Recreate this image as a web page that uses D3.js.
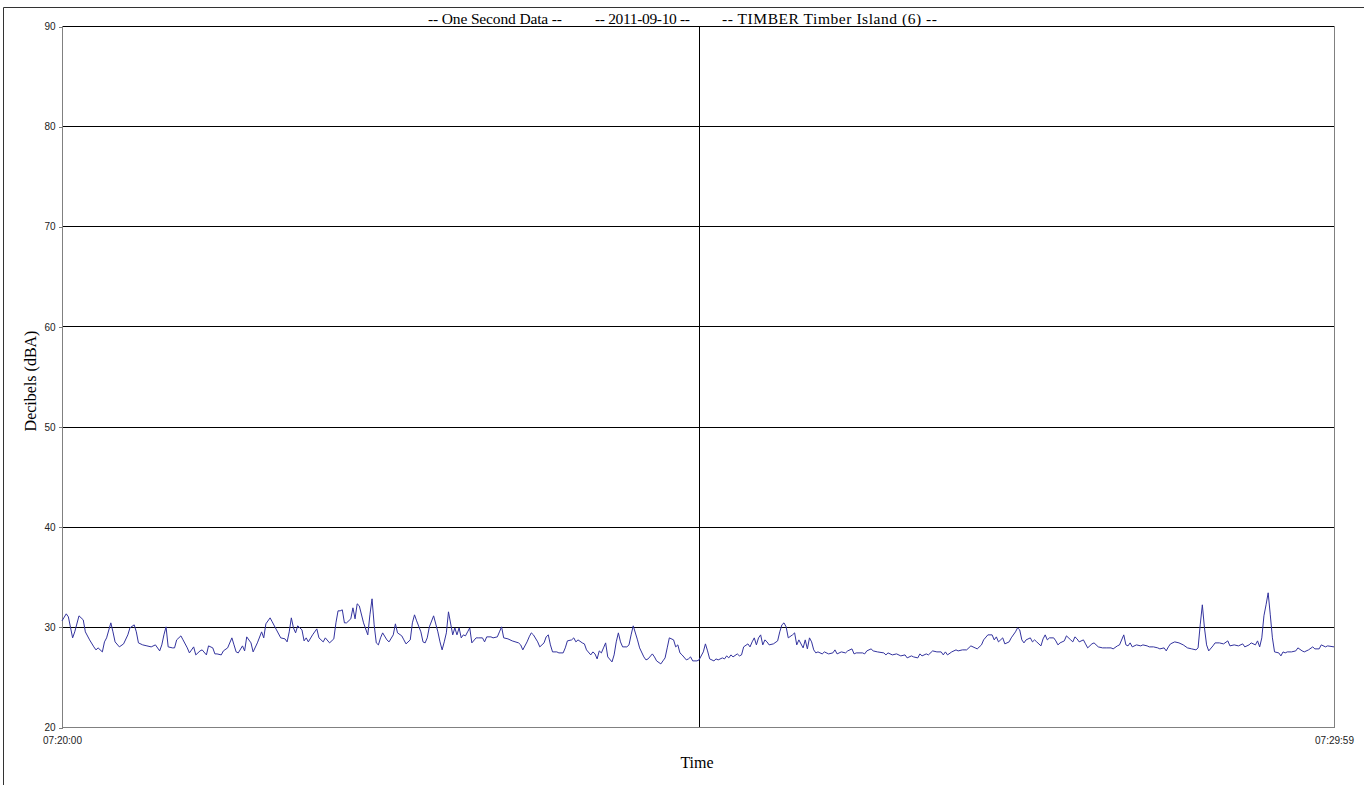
<!DOCTYPE html>
<html>
<head>
<meta charset="utf-8">
<script src="https://cdn.jsdelivr.net/npm/d3@7"></script>
<style>
  html, body { margin: 0; padding: 0; background: #fff; }
  svg { display: block; }
</style>
</head>
<body>
<svg id="chart" width="1364" height="785"></svg>
<script>
// ---- data ----
const titleParts = ["-- One Second Data --", "-- 2011-09-10 --", "-- TIMBER Timber Island (6) --"];
const yTicks = [20, 30, 40, 50, 60, 70, 80, 90];
const xTickLabels = ["07:20:00", "07:29:59"];
const xTickSeconds = [0, 599];
const xGridSeconds = [300];
const yLabel = "Decibels (dBA)";
const xLabel = "Time";
// seconds after 07:20:00
const seconds = [
  0,2,3,5,6,8,10,11,13,15,16,17,19,20,21,23,24,25,27,29,31,32,34,35,36,38,40,42,44,46,47,48,49,50,52,53,54,56,57,59,
  60,62,63,65,66,68,69,71,72,73,75,76,78,80,81,82,83,85,86,87,89,90,92,94,95,96,98,99,101,103,105,106,107,108,109,110,111,113,114,115,
  116,118,120,121,123,124,126,128,129,130,131,132,133,134,136,137,138,139,140,142,144,145,146,147,148,149,150,151,153,154,156,157,158,160,161,162,164,165,166,167,
  169,170,171,172,173,175,177,178,179,180,181,182,184,185,186,187,188,189,190,191,192,193,195,196,198,199,200,202,203,205,206,207,208,210,212,215,216,217,219,220,
  221,222,224,225,227,228,229,230,231,233,234,236,237,238,240,241,242,243,245,246,247,249,250,251,252,253,254,255,256,257,259,260,261,262,263,264,266,267,268,269,
  271,272,274,275,276,278,279,280,282,283,284,285,286,288,289,290,291,292,294,295,296,297,299,300,302,303,304,305,307,308,309,311,312,313,314,315,316,318,319,320,
  321,323,324,325,326,327,328,329,330,331,332,333,335,337,338,339,340,341,342,344,345,346,347,349,350,351,352,353,354,355,356,358,359,361,363,364,365,367,369,370,
  372,373,374,377,378,379,381,382,384,387,388,389,391,393,395,397,398,400,401,403,404,405,407,408,410,412,414,415,416,417,419,421,422,424,426,428,430,431,433,434,
  436,438,439,440,441,443,444,446,447,449,450,451,452,453,454,456,457,458,459,461,462,463,464,465,467,468,469,470,472,473,475,476,477,478,479,481,482,483,485,486,
  488,490,492,494,495,497,498,500,501,502,503,504,506,508,509,511,512,514,516,517,519,520,521,522,524,526,528,530,532,534,535,536,537,538,539,540,542,543,545,547,
  549,550,552,554,556,557,559,560,562,563,564,565,566,567,568,569,570,571,573,574,575,576,577,579,581,582,584,585,587,589,590,592,593,595,596,599
];
const decibels = [
  30.6,31.3,31.0,28.9,29.5,31.1,30.7,29.5,28.7,28.0,27.7,27.9,27.5,28.5,28.9,30.4,29.5,28.5,28.0,28.3,29.2,29.9,30.2,29.5,28.4,28.2,28.1,28.0,28.2,27.6,28.2,29.2,30.0,28.0,27.9,27.9,28.7,29.1,28.7,27.9,
  27.4,28.0,27.2,27.6,27.7,27.2,28.1,27.9,27.3,27.3,27.2,27.6,27.9,28.9,28.2,27.5,27.4,28.1,27.6,29.0,28.4,27.5,28.4,29.5,28.9,30.3,30.9,30.5,29.7,28.9,28.8,28.5,29.5,30.9,29.9,29.4,30.1,29.7,28.6,28.9,
  28.5,29.2,29.8,28.9,28.5,28.9,28.4,28.8,30.4,31.6,31.6,31.7,30.4,30.4,30.8,31.9,30.8,32.3,32.1,30.4,29.2,31.2,32.8,30.2,28.4,28.2,28.9,29.4,28.7,28.5,29.2,30.3,29.4,29.1,28.7,28.3,28.7,30.4,31.2,30.6,
  29.5,28.5,28.4,28.9,30.0,31.1,29.5,28.5,27.7,28.5,29.4,31.5,29.2,29.9,29.2,29.9,28.9,29.2,29.1,29.5,29.9,28.4,28.9,28.9,28.9,28.5,29.0,29.0,28.9,29.0,29.5,30.0,28.9,28.8,28.6,28.4,28.2,27.7,28.5,29.0,
  29.4,29.2,28.5,28.0,28.4,29.0,29.2,28.2,27.5,27.5,27.4,27.4,27.9,28.6,28.7,28.9,28.5,28.7,28.4,28.3,27.7,27.2,27.5,27.3,26.8,27.6,27.4,27.9,28.4,27.0,26.5,27.2,28.5,29.4,28.5,28.0,28.0,28.2,29.2,30.1,
  28.7,27.9,27.0,26.7,26.8,27.3,27.0,26.6,26.3,26.6,26.9,27.9,28.9,28.7,28.0,28.2,27.4,27.2,26.7,26.8,27.0,26.6,26.6,26.7,27.5,28.3,27.6,26.8,26.6,26.8,26.7,26.9,26.8,27.1,26.9,27.2,27.0,27.3,27.1,27.2,
  28.0,28.3,28.0,28.5,28.9,28.2,28.9,29.2,28.2,28.7,28.5,28.2,28.3,28.6,29.5,30.2,30.4,30.0,28.9,29.2,29.4,28.2,28.7,27.9,28.7,27.8,28.9,28.5,27.7,27.4,27.5,27.3,27.5,27.3,27.4,27.7,27.3,27.5,27.4,27.6,
  27.8,27.3,27.4,27.4,27.3,27.6,27.8,27.6,27.5,27.4,27.2,27.4,27.2,27.3,27.1,27.2,26.9,27.1,27.0,26.9,27.3,27.1,27.3,27.2,27.6,27.5,27.5,27.2,27.5,27.2,27.5,27.7,27.6,27.7,27.7,28.1,27.9,27.8,28.2,28.7,
  29.2,29.2,28.7,29.0,28.5,28.9,28.3,28.5,28.9,29.5,29.9,29.7,28.7,28.4,28.7,28.9,28.5,28.7,28.5,28.1,28.8,29.2,28.7,28.9,28.9,28.6,28.2,28.4,28.6,29.1,28.7,28.5,29.0,28.8,28.5,28.7,28.3,27.9,28.3,28.4,
  28.0,27.9,27.9,27.9,27.8,28.1,28.2,29.2,28.2,28.1,28.4,28.0,28.2,28.1,28.2,28.1,28.0,28.0,27.9,27.8,27.9,27.6,28.0,28.3,28.5,28.4,28.2,27.9,27.8,27.7,27.9,30.2,32.2,29.9,28.2,27.6,28.1,28.4,28.4,28.3,
  28.6,28.1,28.2,28.1,28.3,28.0,28.2,28.4,28.2,28.6,28.0,28.9,31.1,32.2,33.4,31.2,28.9,27.5,27.4,27.1,27.5,27.4,27.5,27.5,27.6,27.9,27.6,27.5,27.7,28.0,27.8,27.8,28.2,28.0,28.1,28.0
];

// ---- layout ----
const svg = d3.select("#chart");
const plotL = 62, plotR = 1334, plotT = 26, plotB = 727;
const x = d3.scaleLinear().domain([0, 599]).range([plotL, plotR]);
const y = d3.scaleLinear().domain([20, 90]).range([plotB, plotT]);
const serif = "'Liberation Serif', 'Times New Roman', serif";
const narrow = "'Liberation Sans Narrow', 'Liberation Sans', Arial, sans-serif";

// outer frame
svg.append("path")
  .attr("d", `M3.5,785 V7.5 H1364`)
  .attr("fill", "none").attr("stroke", "#333").attr("stroke-width", 1);

const grid = svg.append("g").attr("shape-rendering", "crispEdges");
// horizontal gridlines
grid.selectAll("line.h").data(yTicks.filter(t => t > 20 && t < 90)).join("line")
  .attr("x1", plotL).attr("x2", plotR)
  .attr("y1", d => y(d) + 0.5).attr("y2", d => y(d) + 0.5)
  .attr("stroke", "#000").attr("stroke-width", 1);
// vertical gridline
grid.selectAll("line.v").data(xGridSeconds).join("line")
  .attr("x1", d => Math.round(x(d)) + 0.5).attr("x2", d => Math.round(x(d)) + 0.5)
  .attr("y1", plotT).attr("y2", plotB)
  .attr("stroke", "#000").attr("stroke-width", 1);

// plot border
grid.append("line").attr("x1", plotL).attr("x2", plotR).attr("y1", plotT + 0.5).attr("y2", plotT + 0.5).attr("stroke", "#000");
grid.append("line").attr("x1", plotL + 0.5).attr("x2", plotL + 0.5).attr("y1", plotT).attr("y2", plotB + 1).attr("stroke", "#808080");
grid.append("line").attr("x1", plotL).attr("x2", plotR + 1).attr("y1", plotB + 0.5).attr("y2", plotB + 0.5).attr("stroke", "#808080");
grid.append("line").attr("x1", plotR + 0.5).attr("x2", plotR + 0.5).attr("y1", plotT).attr("y2", plotB + 1).attr("stroke", "#808080");

// y axis
const yAxis = d3.axisLeft(y).tickValues(yTicks).tickSize(4).tickPadding(3).tickFormat(d3.format("d"));
const gy = svg.append("g").attr("transform", `translate(${plotL + 0.5},0.5)`).call(yAxis);
gy.select(".domain").remove();
gy.selectAll(".tick line").attr("stroke", "#808080").attr("shape-rendering", "crispEdges");
gy.selectAll(".tick text").attr("font-family", narrow).attr("font-size", 10).attr("fill", "#222");

// x axis labels
const xAxis = d3.axisBottom(x).tickValues(xTickSeconds).tickSize(0).tickPadding(10)
  .tickFormat((d, i) => xTickLabels[i]);
const gx = svg.append("g").attr("transform", `translate(0,${plotB})`).call(xAxis);
gx.select(".domain").remove();
gx.selectAll(".tick text").attr("font-family", narrow).attr("font-size", 10).attr("fill", "#222");

// data line
const line = d3.line().x((d, i) => x(seconds[i])).y(d => y(d));
svg.append("path")
  .datum(decibels)
  .attr("d", line)
  .attr("fill", "none")
  .attr("stroke", "#33339e")
  .attr("stroke-width", 1)
  .attr("stroke-linejoin", "round");

// title
const titleX = [428, 595, 722];
const titleW = [134, 95, 215];
svg.append("g").selectAll("text").data(titleParts).join("text")
  .attr("x", (d, i) => titleX[i]).attr("y", 24)
  .attr("textLength", (d, i) => titleW[i]).attr("lengthAdjust", "spacing")
  .attr("font-family", serif).attr("font-size", 15.5).attr("fill", "#000")
  .text(d => d);

// axis titles
svg.append("text")
  .attr("transform", "translate(36,381) rotate(-90)")
  .attr("text-anchor", "middle")
  .attr("font-family", serif).attr("font-size", 16).attr("fill", "#000")
  .text(yLabel);
svg.append("text")
  .attr("x", 697).attr("y", 768)
  .attr("text-anchor", "middle")
  .attr("font-family", serif).attr("font-size", 16).attr("fill", "#000")
  .text(xLabel);
</script>
</body>
</html>
